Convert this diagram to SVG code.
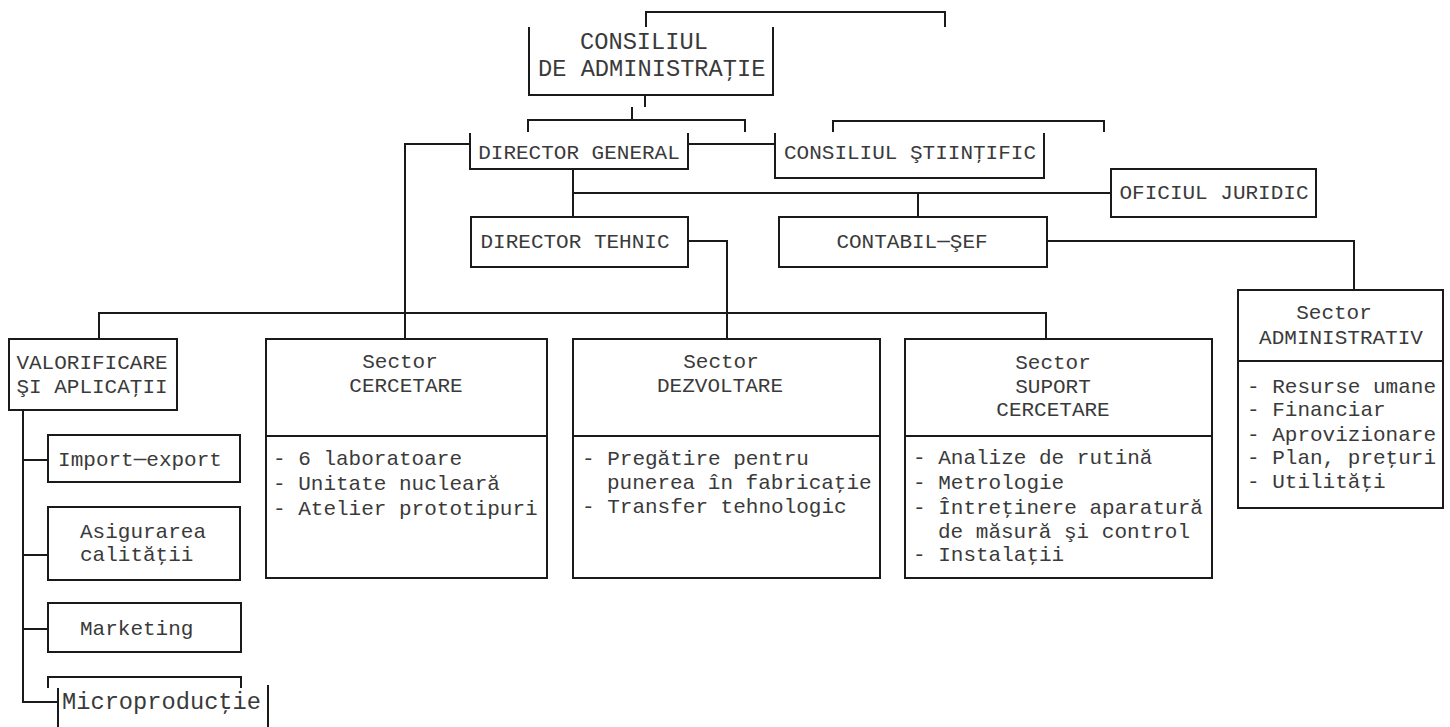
<svg xmlns="http://www.w3.org/2000/svg" width="1450" height="727" viewBox="0 0 1450 727">
<style>
.ln{stroke:#1a1a1a;stroke-width:2;fill:none}
.t{font-family:"Liberation Mono","Courier New",monospace;font-size:21px;fill:#3a3a3a}
.big{font-size:23.7px}
.c{text-anchor:middle}
</style>
<rect width="1450" height="727" fill="#fff"/>
<g id="connectors" class="ln">
<path d="M645,95 V107 M632,107 V120"/>
<path d="M470,144 H405 V339"/>
<path d="M688,144 H775"/>
<path d="M573,169 V217"/>
<path d="M573,193 H1111"/>
<path d="M918,193 V217"/>
<path d="M688,241 H727 V339"/>
<path d="M1047,241 H1354 V290"/>
<path d="M99,339 V313 H1046 V339"/>
<path d="M23,410 V702 H58 M23,460 H48 M23,555 H48 M23,629 H48"/>
</g>
<g id="consiliul-administratie">
<path class="ln" d="M646,27 V12 H945 V27"/>
<path class="ln" d="M529,27 V95 H773 V27"/>
<text class="t big" x="580" y="49">CONSILIUL</text>
<text class="t big" x="538" y="76">DE ADMINISTRAŢIE</text>
</g>
<g id="director-general">
<path class="ln" d="M528,132 V120 H745 V132"/>
<path class="ln" d="M470,133 V169 H688 V133"/>
<text class="t c" x="579" y="159">DIRECTOR GENERAL</text>
</g>
<g id="consiliul-stiintific">
<path class="ln" d="M833,132 V121 H1104 V132"/>
<path class="ln" d="M775,133 V178 H1044 V133"/>
<text class="t c" x="910" y="159">CONSILIUL ŞTIINŢIFIC</text>
</g>
<g id="oficiul-juridic">
<rect class="ln" x="1111" y="169" width="205" height="48"/>
<text class="t c" x="1214" y="199">OFICIUL JURIDIC</text>
</g>
<g id="director-tehnic">
<rect class="ln" x="471" y="217" width="217" height="50"/>
<text class="t c" x="575" y="248">DIRECTOR TEHNIC</text>
</g>
<g id="contabil-sef">
<rect class="ln" x="779" y="217" width="268" height="50"/>
<text class="t c" x="912" y="248">CONTABIL─ŞEF</text>
</g>
<g id="valorificare">
<rect class="ln" x="9" y="339" width="168" height="71"/>
<text class="t c" x="92" y="369">VALORIFICARE</text>
<text class="t c" x="92" y="393">ŞI APLICAŢII</text>
</g>
<g id="sector-cercetare">
<rect class="ln" x="266" y="339" width="281" height="239"/>
<path class="ln" d="M266,436 H547"/>
<text class="t c" x="400" y="368">Sector</text>
<text class="t c" x="406" y="392">CERCETARE</text>
<text class="t" x="273" y="465">- 6 laboratoare</text>
<text class="t" x="273" y="490">- Unitate nucleară</text>
<text class="t" x="273" y="515">- Atelier prototipuri</text>
</g>
<g id="sector-dezvoltare">
<rect class="ln" x="573" y="339" width="307" height="239"/>
<path class="ln" d="M573,436 H880"/>
<text class="t c" x="721" y="368">Sector</text>
<text class="t c" x="720" y="392">DEZVOLTARE</text>
<text class="t" x="582" y="465">- Pregătire pentru</text>
<text class="t" x="607" y="489">punerea în fabricaţie</text>
<text class="t" x="582" y="513">- Transfer tehnologic</text>
</g>
<g id="sector-suport">
<rect class="ln" x="905" y="339" width="307" height="239"/>
<path class="ln" d="M905,436 H1212"/>
<text class="t c" x="1053" y="369">Sector</text>
<text class="t c" x="1053" y="393">SUPORT</text>
<text class="t c" x="1053" y="416">CERCETARE</text>
<text class="t" x="913" y="464">- Analize de rutină</text>
<text class="t" x="913" y="489">- Metrologie</text>
<text class="t" x="913" y="514">- Întreţinere aparatură</text>
<text class="t" x="938" y="538">de măsură şi control</text>
<text class="t" x="913" y="561">- Instalaţii</text>
</g>
<g id="sector-administrativ">
<rect class="ln" x="1238" y="290" width="205" height="218"/>
<path class="ln" d="M1238,361 H1443"/>
<text class="t c" x="1334" y="319">Sector</text>
<text class="t c" x="1341" y="344">ADMINISTRATIV</text>
<text class="t" x="1247" y="393">- Resurse umane</text>
<text class="t" x="1247" y="416">- Financiar</text>
<text class="t" x="1247" y="441">- Aprovizionare</text>
<text class="t" x="1247" y="464">- Plan, preţuri</text>
<text class="t" x="1247" y="488">- Utilităţi</text>
</g>
<g id="import-export">
<rect class="ln" x="48" y="435" width="192" height="47"/>
<text class="t c" x="140" y="466">Import─export</text>
</g>
<g id="asigurarea-calitatii">
<rect class="ln" x="48" y="507" width="192" height="73"/>
<text class="t" x="80" y="538">Asigurarea</text>
<text class="t" x="80" y="561">calităţii</text>
</g>
<g id="marketing">
<rect class="ln" x="48" y="603" width="193" height="49"/>
<text class="t" x="80" y="635">Marketing</text>
</g>
<g id="microproductie">
<path class="ln" d="M48,688 V677 H241 V688 M58,688 V727 M268,685 V727"/>
<text class="t big" x="62" y="709">Microproducţie</text>
</g>
</svg>
